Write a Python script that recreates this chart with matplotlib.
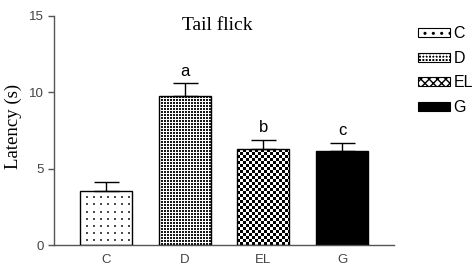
import numpy as np
import matplotlib
matplotlib.use('Agg')
import matplotlib.pyplot as plt
from matplotlib.patches import Rectangle

categories = ['C', 'D', 'EL', 'G']
means = [3.55, 9.74, 6.26, 6.15]
sems = [0.55, 0.83, 0.61, 0.54]
letters = ['', 'a', 'b', 'c']
yticks = [0, 5, 10, 15]
textures = ['dots', 'fine', 'checker', None]

plt.rcParams['font.family'] = ['Liberation Sans', 'DejaVu Sans']
plt.rcParams['hatch.linewidth'] = 1.0

W, H = 475, 267
fig = plt.figure(figsize=(W / 100, H / 100), dpi=100)
ax = fig.add_axes([54 / W, 1 - 245 / H, 340 / W, 229.3 / H])
x = np.arange(len(categories))
XL, YL = (-0.66, 3.66), (0, 15)
ax.set_xlim(*XL)
ax.set_ylim(*YL)

bars = ax.bar(x, means, width=0.66, color='white', edgecolor='none', zorder=2)
bars[3].set_facecolor('black')


def texture(kind, w, h):
    yy, xx = np.mgrid[0:h, 0:w]
    arr = np.ones((h, w))
    if kind == 'dots':
        m = ((xx % 7) < 2) & ((yy % 7) < 2)
        arr[m] = 0.3
    elif kind == 'fine':
        m = ((xx % 3) < 2) & ((yy % 3) < 2)
        arr[m] = 0.1
    elif kind == 'checker':
        m = ((xx // 3 + yy // 3) % 2) == 0
        arr[m] = 0.0
    return arr


inv = ax.transData.inverted()
for bar, kind in zip(bars, textures):
    if kind is None:
        continue
    bb = bar.get_window_extent()
    px0, px1 = np.floor(bb.x0), np.ceil(bb.x1)
    py0, py1 = np.floor(bb.y0), np.ceil(bb.y1)
    (dx0, dy0), (dx1, dy1) = inv.transform([(px0, py0), (px1, py1)])
    img = texture(kind, int(px1 - px0), int(py1 - py0))
    im = ax.imshow(img, cmap='gray', vmin=0, vmax=1, extent=(dx0, dx1, dy0, dy1),
                   interpolation='nearest', aspect='auto', zorder=2.5)
    im.set_clip_path(bar)

ax.bar(x, means, width=0.66, fill=False, edgecolor='black', linewidth=1, zorder=3)
ax.errorbar(x, means, yerr=[np.zeros(len(means)), sems], fmt='none', ecolor='black',
            elinewidth=1, capsize=9, capthick=1, zorder=4)

for xi, m, s, l in zip(x, means, sems, letters):
    if l:
        ax.annotate(l, (xi, m + s), xytext=(0, 5.5), textcoords='offset points',
                    ha='center', va='baseline', fontsize=12)

ax.set_xlim(*XL)
ax.set_ylim(*YL)
ax.set_xticks(x)
ax.set_xticklabels(categories)
ax.set_yticks(yticks)
ax.tick_params(axis='x', length=0, pad=6.5, labelsize=9.5, labelcolor='#444')
ax.tick_params(axis='y', length=4, width=1, pad=3, labelsize=9.5, labelcolor='#444', color='#555')
for s in ['top', 'right']:
    ax.spines[s].set_visible(False)
for s in ['left', 'bottom']:
    ax.spines[s].set_color('#555')
    ax.spines[s].set_linewidth(1)

ax.set_ylabel('Latency (s)', family=['Liberation Serif', 'DejaVu Serif'], fontsize=13.5)
ax.yaxis.set_label_coords((13 - 54) / 340, (245 - 126) / 229.3)
ax.yaxis.label.set_va('center')

ax.text(1.41, 14.39, 'Tail flick', family=['Liberation Serif', 'DejaVu Serif'],
        fontsize=14, ha='center', va='center')

handles = [
    Rectangle((0, 0), 1, 1, fc='white', ec='black', hatch='..', lw=0.8),
    (Rectangle((0, 0), 1, 1, fc='black', ec='white', hatch='+++++', lw=0),
     Rectangle((0, 0), 1, 1, fc='none', ec='black', lw=0.8)),
    Rectangle((0, 0), 1, 1, fc='white', ec='black', hatch='xxxx', lw=0.8),
    Rectangle((0, 0), 1, 1, fc='black', ec='black', lw=0.8),
]
fig.legend(handles, categories, loc='upper left', bbox_to_anchor=(417.7 / W, 1 - 26 / H),
           frameon=False, fontsize=11.5, handlelength=2.0, handleheight=0.5,
           handletextpad=0.25, labelspacing=0.61, borderpad=0, borderaxespad=0)

fig.savefig('out.png', dpi=100)
